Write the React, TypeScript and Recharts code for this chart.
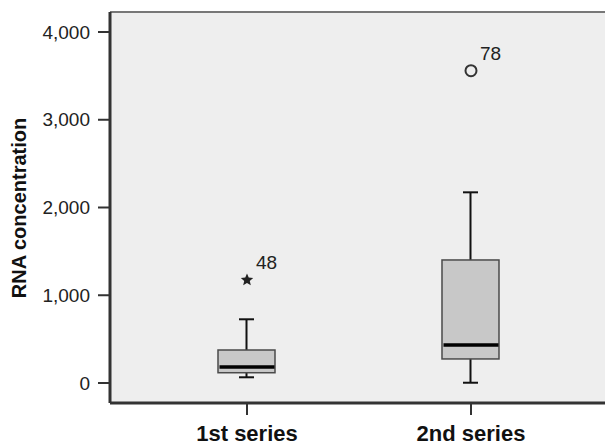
import { Bar, CartesianGrid, ComposedChart, ReferenceLine, Scatter, XAxis, YAxis } from 'recharts'

// box plot summary per group
const CATEGORIES = ['1st series', '2nd series']
const POSITIONS = [1, 2]
const WHISKER_LOW = [65, 3]
const Q1 = [117, 274]
const MEDIAN = [182, 433]
const Q3 = [376, 1402]
const WHISKER_HIGH = [726, 2173]

// flagged cases: kind 'extreme' draws a star, 'outlier' a circle
const OUTLIER_POS = [1, 2]
const OUTLIER_VALUE = [1174, 3559]
const OUTLIER_CASE = ['48', '78']
const OUTLIER_KIND = ['extreme', 'outlier']

const Y_TICKS = [0, 1000, 2000, 3000, 4000]
const Y_MIN = -228
const Y_MAX = 4228
const X_MIN = 0.3884
const X_MAX = 2.7545

const BOX_WIDTH = 57
const CAP_WIDTH = 15
const FONT = '"Liberation Sans", Arial, sans-serif'

const rows = POSITIONS.map((x, i) => ({
  x,
  name: CATEGORIES[i],
  whisker: [WHISKER_LOW[i], WHISKER_HIGH[i]],
  box: [Q1[i], Q3[i]],
  median: MEDIAN[i],
}))

const outlierRows = OUTLIER_POS.map((x, i) => ({
  x,
  value: OUTLIER_VALUE[i],
  id: OUTLIER_CASE[i],
  kind: OUTLIER_KIND[i],
}))

function WhiskerShape(props: any) {
  const { x, y, width, height } = props
  const top = Math.min(y, y + height)
  const bottom = Math.max(y, y + height)
  const cx = x + width / 2
  return (
    <g stroke="#111" strokeWidth={2}>
      <line x1={cx} x2={cx} y1={top} y2={bottom} />
      <line x1={x} x2={x + width} y1={top} y2={top} />
      <line x1={x} x2={x + width} y1={bottom} y2={bottom} />
    </g>
  )
}

function BoxShape(props: any) {
  const { x, y, width, height } = props
  const top = Math.min(y, y + height)
  return <rect x={x} y={top} width={width} height={Math.abs(height)} fill="#c8c8c8" stroke="#4a4a4a" strokeWidth={1.5} />
}

function MedianShape(props: any) {
  const { cx, cy } = props
  return <line x1={cx - BOX_WIDTH / 2 + 1} x2={cx + BOX_WIDTH / 2 - 1} y1={cy} y2={cy} stroke="#000" strokeWidth={3.5} />
}

function starPath(cx: number, cy: number, r: number) {
  const pts: string[] = []
  for (let k = 0; k < 10; k++) {
    const rad = k % 2 === 0 ? r : r * 0.45
    const a = -Math.PI / 2 + (k * Math.PI) / 5
    pts.push(`${cx + rad * Math.cos(a)},${cy + rad * Math.sin(a)}`)
  }
  return `M${pts.join('L')}Z`
}

function OutlierShape(props: any) {
  const { cx, cy, payload } = props
  return (
    <g>
      {payload.kind === 'extreme' ? (
        <path d={starPath(cx, cy, 6.5)} fill="#222" />
      ) : (
        <circle cx={cx} cy={cy} r={5.5} fill="none" stroke="#333" strokeWidth={2} />
      )}
      <text x={cx + 9} y={cy - 11} fontSize={19} fill="#222" fontFamily={FONT}>
        {payload.id}
      </text>
    </g>
  )
}

export default function App() {
  return (
    <div style={{ position: 'absolute', left: 0, top: 0, width: 605, height: 443, overflow: 'hidden', background: '#fff' }}>
      <ComposedChart
        width={640}
        height={443}
        data={rows}
        margin={{ top: 12, right: 0, bottom: 0, left: 0 }}
        style={{ fontFamily: FONT }}
      >
        <CartesianGrid horizontal={false} vertical={false} fill="#eeeeee" />
        <ReferenceLine y={Y_MAX} stroke="#777" strokeWidth={2} ifOverflow="extendDomain" />
        <XAxis
          xAxisId="main"
          type="number"
          dataKey="x"
          domain={[X_MIN, X_MAX]}
          ticks={POSITIONS}
          allowDataOverflow
          tickFormatter={(v) => CATEGORIES[POSITIONS.indexOf(v)] ?? ''}
          height={40}
          tickSize={12}
          tickMargin={10}
          axisLine={{ stroke: '#333', strokeWidth: 3 }}
          tickLine={{ stroke: '#333', strokeWidth: 2 }}
          tick={{ fill: '#111', fontSize: 22, fontWeight: 'bold' }}
        />
        <XAxis xAxisId="w" type="number" dataKey="x" domain={[X_MIN, X_MAX]} allowDataOverflow hide height={0} />
        <XAxis xAxisId="b" type="number" dataKey="x" domain={[X_MIN, X_MAX]} allowDataOverflow hide height={0} />
        <YAxis
          type="number"
          domain={[Y_MIN, Y_MAX]}
          ticks={Y_TICKS}
          allowDataOverflow
          width={110}
          tickSize={12}
          tickMargin={8}
          tickFormatter={(v) => v.toLocaleString('en-US')}
          axisLine={{ stroke: '#333', strokeWidth: 3 }}
          tickLine={{ stroke: '#333', strokeWidth: 2 }}
          tick={{ fill: '#222', fontSize: 19 }}
          label={{
            content: () => (
              <text
                x={19}
                y={208}
                transform="rotate(-90 19 208)"
                textAnchor="middle"
                dominantBaseline="central"
                fontSize={20}
                fontWeight="bold"
                fill="#111"
                fontFamily={FONT}
              >
                RNA concentration
              </text>
            ),
          }}
        />
        <Bar xAxisId="w" dataKey="whisker" barSize={CAP_WIDTH} shape={WhiskerShape} isAnimationActive={false} />
        <Bar xAxisId="b" dataKey="box" barSize={BOX_WIDTH} shape={BoxShape} isAnimationActive={false} />
        <Scatter xAxisId="main" dataKey="median" shape={MedianShape} isAnimationActive={false} />
        <Scatter xAxisId="main" data={outlierRows} dataKey="value" shape={OutlierShape} isAnimationActive={false} />
      </ComposedChart>
    </div>
  )
}
